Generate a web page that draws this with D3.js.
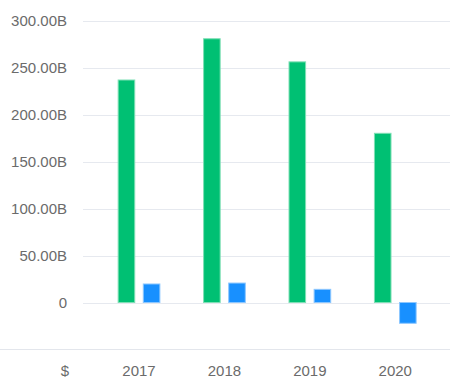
<!DOCTYPE html>
<html><head><meta charset="utf-8">
<script src="https://cdn.jsdelivr.net/npm/d3@7/dist/d3.min.js"></script>
<style>body{margin:0;background:#fff}svg{display:block}text{font-family:"Liberation Sans",Arial,sans-serif}</style>
</head><body><svg id="c" width="450" height="382"></svg>
<script>
const years = ["2017","2018","2019","2020"];
const seriesNames = ["revenue","netIncome"];
const revenue = [236.7, 280.6, 256, 180];
const netIncome = [19.7, 20.7, 14.0, -22.1];
const yTicks = [0, 50, 100, 150, 200, 250, 300];
const tickLabels = ["0","50.00B","100.00B","150.00B","200.00B","250.00B","300.00B"];
const colors = ["#00c073","#1890ff"];
const strokes = ["#7fdfb5","#8cc7ff"];

const svg = d3.select("#c");
const y = d3.scaleLinear().domain([0,300]).range([302.5,20.5]);
const x = d3.scaleBand().domain(years).range([96.3,438]).paddingInner(0.5).paddingOuter(0.25);
const x1 = d3.scaleBand().domain(seriesNames).range([0,x.bandwidth()]).paddingInner(0.3);

// gridlines
svg.append("g").selectAll("line").data(yTicks).join("line")
  .attr("x1",83).attr("x2",450)
  .attr("y1",d=>Math.round(y(d))+0.5).attr("y2",d=>Math.round(y(d))+0.5)
  .attr("stroke","#e6e9ef").attr("stroke-width",1.2);

// y labels
svg.append("g").selectAll("text").data(yTicks).join("text")
  .attr("x",67).attr("y",d=>y(d)).attr("dy","0.35em")
  .attr("text-anchor","end").attr("font-size",15).attr("fill","#6b6b6b")
  .text((d,i)=>tickLabels[i]);

// bottom line
svg.append("line").attr("x1",0).attr("x2",450).attr("y1",349.5).attr("y2",349.5)
  .attr("stroke","#e3e6ec").attr("stroke-width",1.2);

const data = years.map((yr,i)=>({yr, vals:[revenue[i], netIncome[i]]}));
const g = svg.append("g").selectAll("g").data(data).join("g")
  .attr("transform",d=>`translate(${x(d.yr)},0)`);
g.selectAll("rect").data(d=>d.vals.map((v,j)=>({v,j}))).join("rect")
  .attr("x",d=>x1(seriesNames[d.j])+0.5)
  .attr("width",x1.bandwidth()-1)
  .attr("y",d=>Math.min(y(d.v),y(0)))
  .attr("height",d=>Math.abs(y(d.v)-y(0)))
  .attr("fill",d=>colors[d.j])
  .attr("stroke",d=>strokes[d.j]).attr("stroke-width",1);

// x labels
svg.append("g").selectAll("text").data(years).join("text")
  .attr("x",d=>x(d)+x.bandwidth()/2).attr("y",371).attr("dy","0.35em")
  .attr("text-anchor","middle").attr("font-size",15).attr("fill","#6b6b6b")
  .text(d=>d);
svg.append("text").attr("x",65).attr("y",371).attr("dy","0.35em")
  .attr("text-anchor","middle").attr("font-size",15).attr("fill","#6b6b6b").text("$");
</script></body></html>
